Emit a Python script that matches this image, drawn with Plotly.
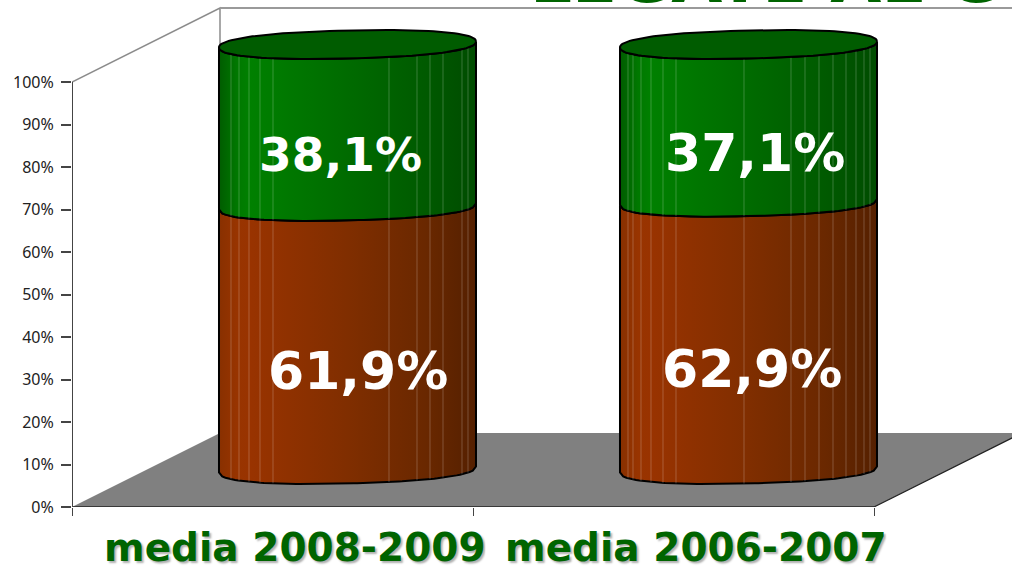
import numpy as np
import plotly.graph_objects as go

categories = ["media 2008-2009", "media 2006-2007"]
brown_values = [61.9, 62.9]
green_values = [38.1, 37.1]
y_ticks = [0, 10, 20, 30, 40, 50, 60, 70, 80, 90, 100]
y_tick_labels = ["0%", "10%", "20%", "30%", "40%", "50%", "60%", "70%", "80%", "90%", "100%"]
title_text = "LEGATE AL G"

W, H = 1012, 568
L, B = 72, 61
PX_X = 401.0
PX_Y = 4.25
X_MAX = (W - L) / PX_X
Y_MAX = (H - B) / PX_Y
DX, DY = 148 / PX_X, 74 / PX_Y

CX = [0.687, 1.687]
A = 128.5 / PX_X
BASE = 37.5 / PX_Y
B_R = 14 / PX_Y
TILT = 3 / PX_Y
STREAKS = [
    [12, 20, 30, 41, 54, 170, 198, 211, 224, 243, 249],
    [8, 13, 21, 31, 43, 56, 124, 171, 185, 199, 213, 226, 236, 244, 250],
]
GREEN_SCALE = [[0, "#005c00"], [0.07, "#007800"], [0.12, "#008000"], [0.5, "#006b00"], [0.8, "#005a00"], [1, "#004c00"]]
BROWN_SCALE = [[0, "#883000"], [0.07, "#983400"], [0.12, "#993300"], [0.5, "#802e00"], [0.8, "#6a2800"], [1, "#552000"]]


def arc_y(xrel, level):
    """lower edge of the tilted ellipse at relative x in [-1, 1]"""
    s = np.abs(np.asarray(xrel)) ** 2.3
    return level - B_R * np.clip(1 - s, 0, 1) ** (1 / 2.3) + TILT * np.asarray(xrel)


def ring(cx, level):
    t = np.linspace(0, 2 * np.pi, 121)
    c, s = np.cos(t), np.sin(t)
    ex = 2 / 2.3
    xr = np.sign(c) * np.abs(c) ** ex
    yr = np.sign(s) * np.abs(s) ** ex
    return cx + A * xr, level + B_R * yr + TILT * xr


def segment(cx, low, high, scale):
    xr = np.linspace(-1, 1, 81)
    xs = cx + A * xr
    top = arc_y(xr, high)
    bot = arc_y(xr, low)
    return go.Scatter(
        x=np.r_[xs, xs[::-1], xs[0]], y=np.r_[top, bot[::-1], top[0]],
        mode="lines", fill="toself",
        fillgradient=dict(type="horizontal", colorscale=scale),
        line=dict(color="#000000", width=2), hoverinfo="skip", showlegend=False,
    )


def streak_trace(cx, low, high, offs):
    xv, yv = [], []
    for o in offs:
        xr = (o - 128.5) / 128.5
        xv += [cx + A * xr, cx + A * xr, None]
        yv += [float(arc_y(xr, high)), float(arc_y(xr, low)), None]
    return go.Scatter(x=xv, y=yv, mode="lines", line=dict(color="rgba(255,255,255,0.22)", width=1),
                      hoverinfo="skip", showlegend=False)


def plain(x, y, color, width):
    return go.Scatter(x=x, y=y, mode="lines", line=dict(color=color, width=width),
                      hoverinfo="skip", showlegend=False, cliponaxis=False)


fig = go.Figure()
fig.add_trace(go.Scatter(x=[0, 2, 2 + DX, X_MAX, X_MAX, DX, 0], y=[0, 0, DY, DY, DY, DY, 0], mode="lines", fill="toself",
                         fillcolor="#808080", line=dict(width=0), hoverinfo="skip", showlegend=False))
fig.add_trace(plain([0, DX, DX], [100, 100 + DY, DY], "#8c8c8c", 1.5))
fig.add_trace(plain([DX, X_MAX], [100 + DY, 100 + DY], "#9a9a9a", 2))
fig.add_trace(plain([0, 2], [0, 0], "#222222", 1.5))
fig.add_trace(plain([2, 2 + DX], [0, DY], "#222222", 1.2))
fig.add_trace(plain([0, 0], [0, 100], "#444444", 2))

annotations = []
label_pos = [[(358, 371, 52), (340, 154, 47)], [(752, 369, 52), (755, 153, 52)]]
for i, cx in enumerate(CX):
    mid = BASE + brown_values[i]
    top = mid + green_values[i]
    fig.add_trace(segment(cx, BASE, mid, BROWN_SCALE))
    fig.add_trace(streak_trace(cx, BASE, mid, STREAKS[i]))
    fig.add_trace(segment(cx, mid, top, GREEN_SCALE))
    fig.add_trace(streak_trace(cx, mid, top, STREAKS[i]))
    rx, ry = ring(cx, top)
    fig.add_trace(go.Scatter(x=rx, y=ry, mode="lines", fill="toself", fillcolor="#005c00",
                             line=dict(color="#000000", width=2), hoverinfo="skip", showlegend=False))
    for (px, py, size), v in zip(label_pos[i], (brown_values[i], green_values[i])):
        annotations.append(dict(
            x=(px - L) / PX_X, y=(H - B - py) / PX_Y, xref="x", yref="y", showarrow=False,
            text=f"{v:.1f}%".replace(".", ","),
            font=dict(family="DejaVu Sans", size=size, color="#ffffff", weight="bold"),
        ))
    annotations.append(dict(
        x=i + 0.555, y=-40 / (H - B), xref="x", yref="paper", xanchor="center", yanchor="middle",
        height=40, valign="middle", borderpad=0,
        showarrow=False, text=categories[i],
        font=dict(family="DejaVu Sans", size=39, color="#006400", weight="bold", shadow="2px 2px 2px #b0b0b0"),
    ))

annotations.append(dict(
    x=(528 - L) / PX_X, y=1, xref="x", yref="paper", xanchor="left", yanchor="bottom", yshift=-20,
    showarrow=False, text=title_text,
    font=dict(family="DejaVu Sans", size=66, color="#006400", weight="bold"),
))

fig.update_layout(
    width=W, height=H, autosize=False,
    margin=dict(l=L, r=0, t=0, b=B, pad=0),
    paper_bgcolor="#ffffff", plot_bgcolor="#ffffff", showlegend=False,
    annotations=annotations,
    xaxis=dict(range=[0, X_MAX], showgrid=False, zeroline=False, showline=False,
               tickmode="array", tickvals=[0, 1, 2], ticks="outside", ticklen=8, tickwidth=1,
               tickcolor="#444444", showticklabels=False, fixedrange=True),
    yaxis=dict(range=[0, Y_MAX], showgrid=False, zeroline=False, showline=False,
               tickmode="array", tickvals=y_ticks, ticktext=y_tick_labels, ticks="outside", ticklen=10,
               tickwidth=1.5, tickcolor="#444444", fixedrange=True, ticklabelstandoff=4,
               tickfont=dict(family="Noto Sans", size=16, color="#222222")),
)
fig.write_html("out.html", config={"displayModeBar": False},
               post_script="document.body.style.margin='0';document.body.style.overflow='hidden';")
